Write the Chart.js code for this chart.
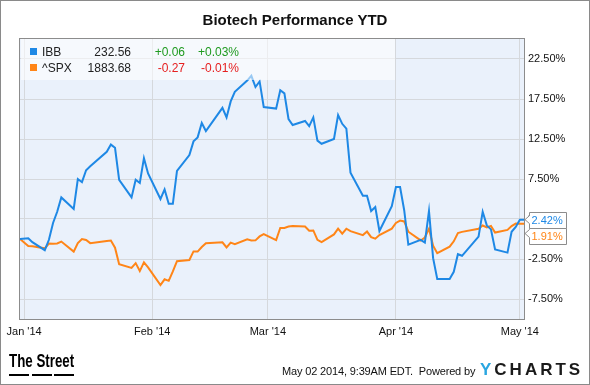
<!DOCTYPE html>
<html>
<head>
<meta charset="utf-8">
<script src="https://cdn.jsdelivr.net/npm/chart.js@4.4.1/dist/chart.umd.min.js"></script>
<style>
  html, body { margin: 0; padding: 0; background: #fff; }
  #wrap { position: relative; width: 590px; height: 385px; overflow: hidden;
          font-family: "Liberation Sans", Arial, sans-serif; color: #111; }
  #chart { position: absolute; left: 0; top: 0; }
  #frame { position: absolute; left: 0; top: 0; width: 590px; height: 385px;
           box-sizing: border-box; border: 1px solid #8a8a8a; pointer-events: none; }
  #title { position: absolute; left: 0; top: 12px; width: 590px; text-align: center;
           font: bold 15px/15px "Liberation Sans", Arial, sans-serif; color: #111; }
  #legend { position: absolute; left: 21px; top: 39px; width: 374px; height: 41px;
            background: rgba(255,255,255,0.55); font-size: 12px; color: #222; }
  .row { position: absolute; left: 0; width: 100%; height: 14px; line-height: 14px; white-space: nowrap; }
  .sw { position: absolute; left: 9px; top: 3px; width: 7px; height: 7px; }
  .name { position: absolute; left: 21px; }
  .price { position: absolute; left: 50px; width: 60px; text-align: right; }
  .chg { position: absolute; left: 124px; width: 40px; text-align: right; }
  .pct { position: absolute; left: 168px; width: 50px; text-align: right; }
  .up { color: #1f9a1f; }
  .down { color: #e62020; }
  #street { position: absolute; left: 9px; top: 352px; font: bold 18px/18px "Liberation Sans", Arial, sans-serif;
            color: #000; transform: scaleX(0.74); transform-origin: 0 0; white-space: nowrap; }
  .dash { position: absolute; top: 374px; width: 20px; height: 2px; background: #000; }
  #stamp { position: absolute; left: 282px; top: 366px; font: 11px/11px "Liberation Sans", Arial, sans-serif;
           color: #111; white-space: nowrap; letter-spacing: -0.15px; }
  #ycharts { position: absolute; left: 480px; top: 361px; font: bold 17px/17px "Liberation Sans", Arial, sans-serif;
             letter-spacing: 3px; color: #1a1a1a; white-space: nowrap; }
  #ycharts span { color: #2aa6e0; }
</style>
</head>
<body>
<div id="wrap">
  <canvas id="chart" width="590" height="385"></canvas>
  <div id="title">Biotech Performance YTD</div>
  <div id="legend"></div>
  <div id="street">The Street</div>
  <div class="dash" style="left:9px"></div>
  <div class="dash" style="left:32px"></div>
  <div class="dash" style="left:54px"></div>
  <div id="stamp">May 02 2014, 9:39AM EDT.&nbsp; Powered by</div>
  <div id="ycharts"><span>Y</span>CHARTS</div>
  <div id="frame"></div>
</div>
<script>
// trading days, Dec 31 2013 is the base point
const dates = [
  "2013-12-31",
  "2014-01-02","2014-01-03","2014-01-06","2014-01-07","2014-01-08","2014-01-09","2014-01-10",
  "2014-01-13","2014-01-14","2014-01-15","2014-01-16","2014-01-17","2014-01-21","2014-01-22",
  "2014-01-23","2014-01-24","2014-01-27","2014-01-28","2014-01-29","2014-01-30","2014-01-31",
  "2014-02-03","2014-02-04","2014-02-05","2014-02-06","2014-02-07","2014-02-10","2014-02-11",
  "2014-02-12","2014-02-13","2014-02-14","2014-02-18","2014-02-19","2014-02-20","2014-02-21",
  "2014-02-24","2014-02-25","2014-02-26","2014-02-27","2014-02-28",
  "2014-03-03","2014-03-04","2014-03-05","2014-03-06","2014-03-07","2014-03-10","2014-03-11",
  "2014-03-12","2014-03-13","2014-03-14","2014-03-17","2014-03-18","2014-03-19","2014-03-20",
  "2014-03-21","2014-03-24","2014-03-25","2014-03-26","2014-03-27","2014-03-28","2014-03-31",
  "2014-04-01","2014-04-02","2014-04-03","2014-04-04","2014-04-07","2014-04-08","2014-04-09",
  "2014-04-10","2014-04-11","2014-04-14","2014-04-15","2014-04-16","2014-04-17","2014-04-21",
  "2014-04-22","2014-04-23","2014-04-24","2014-04-25","2014-04-28","2014-04-29","2014-04-30",
  "2014-05-01","2014-05-02"
];

const ibbPct = [
  0, 0.1, -0.4, -1.4, -0.1, 2.0, 3.4, 5.2, 3.75, 7.5, 7.1, 8.6, 9.1, 10.9, 11.8, 11.4, 7.4, 5.2, 7.4, 7.0, 10.1, 8.2,
  5.0, 6.2, 4.4, 4.4, 8.5, 10.5, 12.2, 12.7, 14.5, 13.5, 16.4, 15.2, 17.2, 18.4, 19.8, 20.4, 19.0, 19.7, 16.5,
  16.3, 18.6, 18.2, 15.0, 14.25, 14.75, 14.1, 15.2, 12.3, 11.9, 12.5, 15.5, 14.4, 13.8, 8.3, 5.4, 5.4, 3.5, 4.0, 1.0, 4.1,
  6.5, 6.5, 3.6, -0.7, -0.1, -0.45, 3.5, -2.4, -5.0, -5.0, -4.1, -1.9, -2.1, 0.3, 3.4, 1.7, 1.2, -1.3, -1.7, 0.9, 1.5,
  2.4, 2.42
];

const spxPct = [
  0, -0.89, -0.92, -1.17, -0.57, -0.59, -0.55, -0.32, -1.58, -0.51, 0.0, -0.13, -0.52, -0.25, -0.19, -1.08, -3.14, -3.61, -3.02, -4.01, -2.93, -3.56,
  -5.76, -5.04, -5.23, -4.05, -2.78, -2.62, -1.55, -1.57, -1.0, -0.53, -0.41, -1.06, -0.46, -0.66, -0.04, -0.18, -0.17, 0.32, 0.6,
  -0.14, 1.38, 1.38, 1.55, 1.61, 1.56, 1.04, 1.07, -0.11, -0.39, 0.57, 1.29, 0.67, 1.28, 0.98, 0.49, 0.93, 0.23, 0.04, 0.5, 1.3,
  2.01, 2.3, 2.19, 0.91, -0.18, 0.19, 1.29, -0.83, -1.77, -0.96, -0.29, 0.75, 0.89, 1.27, 1.69, 1.46, 1.64, 0.81, 1.14, 1.62, 1.93,
  1.91, 1.91
];

const monthTicks = ["2014-01-01", "2014-02-01", "2014-03-01", "2014-04-01", "2014-05-01"];
const monthLabels = ["Jan '14", "Feb '14", "Mar '14", "Apr '14", "May '14"];
const yTicks = [-7.5, -2.5, 2.5, 7.5, 12.5, 17.5, 22.5];

const seriesNames = ["IBB", "^SPX"];
const seriesColors = ["#1e88e5", "#ff8517"];
const lastPrice = ["232.56", "1883.68"];
const lastChg = ["+0.06", "-0.27"];
const lastChgPct = ["+0.03%", "-0.01%"];

const base = Date.parse("2014-01-01");
const dayNum = (s) => (Date.parse(s) - base) / 864e5;

// legend box (html)
const legend = document.getElementById("legend");
seriesNames.forEach((name, i) => {
  const cls = lastChg[i].startsWith("-") ? "down" : "up";
  const row = document.createElement("div");
  row.className = "row";
  row.style.top = (5.8 + i * 16.6) + "px";
  row.innerHTML = `
    <span class="sw" style="background:${seriesColors[i]}"></span>
    <span class="name">${name}</span>
    <span class="price">${lastPrice[i]}</span>
    <span class="chg ${cls}">${lastChg[i]}</span>
    <span class="pct ${cls}">${lastChgPct[i]}</span>`;
  legend.appendChild(row);
});

const plotBg = {
  id: "plotBg",
  beforeDraw(c) {
    const a = c.chartArea;
    c.ctx.save();
    c.ctx.fillStyle = "#eaf1fb";
    c.ctx.fillRect(a.left, a.top, a.right - a.left, a.bottom - a.top);
    c.ctx.restore();
  },
};

const plotFrame = {
  id: "plotFrame",
  afterDatasetsDraw(c) {
    const a = c.chartArea, ctx = c.ctx;
    ctx.save();
    ctx.strokeStyle = "#8c8c8c";
    ctx.lineWidth = 1;
    ctx.strokeRect(a.left - 0.5, a.top - 0.5, a.right - a.left + 1, a.bottom - a.top + 1);
    ctx.restore();
  },
};

// value flags on the right axis
const endFlags = {
  id: "endFlags",
  afterDraw(c) {
    const ctx = c.ctx, ys = c.scales.y, a = c.chartArea;
    const items = c.data.datasets.map((ds) => {
      const v = ds.data[ds.data.length - 1].y;
      return { v, py: ys.getPixelForValue(v), color: ds.borderColor };
    }).sort((p, q) => p.py - q.py);
    const h = 16, x0 = a.right + 5.5, x1 = a.right + 42.5;
    let prevBottom = -Infinity;
    ctx.save();
    ctx.font = '11px "Liberation Sans", Arial, sans-serif';
    ctx.textBaseline = "middle";
    for (const it of items) {
      const top = Math.round(Math.max(it.py - h / 2, prevBottom)) + 0.5;
      prevBottom = top + h - 0.5;
      const ay = Math.min(Math.max(it.py, top + 5), top + h - 5);
      ctx.beginPath();
      ctx.moveTo(x0, top);
      ctx.lineTo(x1, top);
      ctx.lineTo(x1, top + h);
      ctx.lineTo(x0, top + h);
      ctx.lineTo(x0, ay + 4);
      ctx.lineTo(a.right + 1, ay);
      ctx.lineTo(x0, ay - 4);
      ctx.closePath();
      ctx.fillStyle = "#fff";
      ctx.fill();
      ctx.strokeStyle = "#8c8c8c";
      ctx.lineWidth = 1;
      ctx.stroke();
      ctx.fillStyle = it.color;
      ctx.fillText(it.v.toFixed(2) + "%", x0 + 2, top + h / 2);
    }
    ctx.restore();
  },
};

Chart.defaults.font.family = '"Liberation Sans", Arial, sans-serif';
Chart.defaults.font.size = 11;
Chart.defaults.color = "#111";

const toPoints = (vals) => dates.map((d, i) => ({ x: dayNum(d), y: vals[i] }));

new Chart(document.getElementById("chart"), {
  type: "line",
  data: {
    datasets: [
      { label: seriesNames[0], data: toPoints(ibbPct), borderColor: seriesColors[0], borderWidth: 2, pointRadius: 0, tension: 0, fill: false },
      { label: seriesNames[1], data: toPoints(spxPct), borderColor: seriesColors[1], borderWidth: 2, pointRadius: 0, tension: 0, fill: false },
    ],
  },
  options: {
    responsive: false,
    animation: false,
    devicePixelRatio: 1,
    layout: { padding: { left: 20, top: 39, right: 0, bottom: 44 } },
    plugins: { legend: { display: false }, tooltip: { enabled: false }, title: { display: false } },
    scales: {
      x: {
        type: "linear",
        min: dayNum("2013-12-31"),
        max: dayNum("2014-05-02"),
        afterBuildTicks: (s) => { s.ticks = monthTicks.map((t) => ({ value: dayNum(t) })); },
        afterFit: (s) => { s.height = 22; },
        ticks: {
          autoSkip: false, maxRotation: 0, padding: 6,
          callback: (v) => {
            const i = monthTicks.findIndex((t) => dayNum(t) === v);
            return i >= 0 ? monthLabels[i] : "";
          },
        },
        grid: { color: "#d5d8dc", drawTicks: false },
        border: { display: false },
      },
      y: {
        position: "right",
        min: -10,
        max: 25,
        afterBuildTicks: (s) => { s.ticks = yTicks.map((v) => ({ value: v })); },
        afterFit: (s) => { s.width = 66; },
        ticks: { padding: 4, callback: (v) => v.toFixed(2) + "%" },
        grid: { color: "#d5d8dc", drawTicks: false },
        border: { display: false },
      },
    },
  },
  plugins: [plotBg, plotFrame, endFlags],
});
</script>
</body>
</html>
